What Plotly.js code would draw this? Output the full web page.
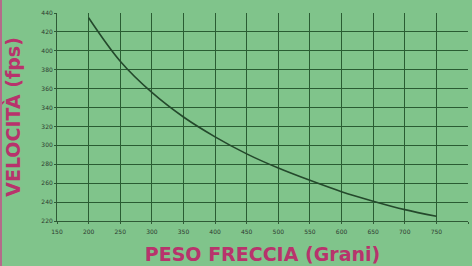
<!DOCTYPE html>
<html><head><meta charset="utf-8">
<script src="https://cdn.plot.ly/plotly-3.0.1.min.js"></script>
<style>html,body{margin:0;padding:0;background:#80c48b;overflow:hidden}#c{width:472px;height:266px}#edge{position:absolute;left:0;top:0;width:2px;height:266px;background:#b56a8a}</style>
</head><body><div id="c"></div><div id="edge"></div>
<script>
const pesoGrani = [200, 250, 300, 350, 400, 450, 500, 550, 600, 650, 700, 750];
const velocitaFps = [435, 389, 356, 330, 309, 291, 276, 263, 251, 241, 232, 225];
const xTicks = [150, 200, 250, 300, 350, 400, 450, 500, 550, 600, 650, 700, 750, 800];
const yTicks = [220, 240, 260, 280, 300, 320, 340, 360, 380, 400, 420, 440];

const trace = {x: pesoGrani, y: velocitaFps, type: 'scatter', mode: 'lines',
  line: {color: '#24492c', width: 1.6, shape: 'spline', smoothing: 1}, hoverinfo: 'skip'};

const layout = {
  width: 472, height: 266,
  margin: {l: 57, r: 4, t: 13, b: 45},
  paper_bgcolor: '#80c48b', plot_bgcolor: '#80c48b',
  showlegend: false,
  xaxis: {range: [150, 800], tickvals: xTicks, ticktext: xTicks.map(String),
    showgrid: true, gridcolor: '#2a5c33', gridwidth: 1, zeroline: false,
    showline: true, linecolor: '#2f5a36', linewidth: 1,
    ticks: 'outside', ticklen: 2, tickcolor: '#2f5a36', ticklabelstandoff: 3,
    tickfont: {family: 'DejaVu Sans', size: 6, color: '#2e3a30'},
    title: {text: 'PESO FRECCIA (Grani)', standoff: 13,
      font: {family: 'DejaVu Sans', size: 19, color: '#b8336c', weight: 'bold'}}},
  yaxis: {range: [220, 440], tickvals: yTicks, ticktext: yTicks.map(String),
    showgrid: true, gridcolor: '#2a5c33', gridwidth: 1, zeroline: false,
    showline: true, linecolor: '#2f5a36', linewidth: 1,
    ticks: 'outside', ticklen: 2, tickcolor: '#2f5a36',
    tickfont: {family: 'DejaVu Sans', size: 6, color: '#2e3a30'},
    title: {text: 'VELOCITÀ (fps)', standoff: 15,
      font: {family: 'DejaVu Sans', size: 19, color: '#b8336c', weight: 'bold'}}}
};
Plotly.newPlot('c', [trace], layout, {staticPlot: true, displayModeBar: false});
</script></body></html>
